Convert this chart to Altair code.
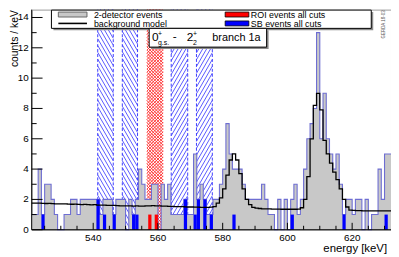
import altair as alt
import numpy as np
import pandas as pd

# ---------------- data ----------------
bin_lo = list(range(521, 632))          # 1 keV bins (lower edges)
two_det_counts = [
    1, 1, 4, 1, 3, 3, 2, 1, 0, 0,        # 521-530
    1, 1, 2, 2, 1, 2, 2, 2, 2, 2,        # 531-540
    2, 1, 2, 2, 2, 1, 2, 2, 2, 0,        # 541-550
    2, 1, 2, 4, 3, 2, 2, 3, 3, 0,        # 551-560
    3, 2, 3, 1, 1, 1, 1, 2, 1, 1,        # 561-570
    5, 2, 3, 2, 1, 1, 2, 2, 3, 4,        # 571-580
    7, 5, 4, 4, 4, 3, 2, 2, 2, 2,        # 581-590
    2, 3, 2, 1, 1, 0, 2, 0, 2, 0,        # 591-600
    2, 3, 1, 2, 4, 6, 7, 8, 13, 6,       # 601-610
    9, 6, 5, 4, 5, 3, 1, 2, 2, 1,        # 611-620
    2, 2, 0, 2, 0, 1, 1, 4, 2, 5, 5,     # 621-631
]
bkg_model = [
    1.76, 1.75, 1.75, 1.74, 1.73, 1.74, 1.72, 1.71, 1.71, 1.70,
    1.70, 1.69, 1.68, 1.69, 1.67, 1.66, 1.67, 1.65, 1.64, 1.65,
    1.63, 1.62, 1.63, 1.61, 1.60, 1.61, 1.59, 1.58, 1.58, 1.57,
    1.57, 1.56, 1.57, 1.55, 1.56, 1.57, 1.58, 1.59, 1.58, 1.57,
    1.56, 1.55, 1.54, 1.54, 1.53, 1.52, 1.52, 1.51, 1.50, 1.50,
    1.49, 1.49, 1.48, 1.48, 1.48, 1.49, 1.52, 1.75, 2.10, 2.70,
    3.60, 4.60, 5.00, 4.60, 3.70, 2.70, 2.00, 1.65, 1.48, 1.42,
    1.40, 1.38, 1.37, 1.37, 1.36, 1.36, 1.36, 1.35, 1.35, 1.35,
    1.35, 1.35, 1.36, 1.45, 2.00, 3.50, 6.00, 8.20, 9.00, 7.90,
    5.90, 5.00, 4.40, 3.80, 3.30, 2.70, 2.00, 1.50, 1.30, 1.27,
    1.26, 1.26, 1.25, 1.25, 1.25, 1.24, 1.24, 1.24, 1.24, 1.24, 1.24,
]
sb_bins = [524, 541, 543, 546, 552, 553, 568, 571, 572, 574, 576, 583, 601, 617, 630]
sb_counts = [1, 2, 1, 1, 1, 1, 2, 1, 2, 2, 1, 1, 1, 1, 1]
roi_bins = [557, 559]
roi_counts = [1, 1]

sideband_lo = [541.4, 549.0, 564.1, 571.9]
sideband_hi = [546.2, 553.7, 569.2, 576.8]
sideband_dir = [-1, -1, 1, 1]          # -1: "\\\" , +1: "///"
roi_lo, roi_hi = 556.6, 561.6

x_labels = [540, 560, 580, 600, 620]
x_minor = [v for v in range(525, 631, 5) if v not in x_labels]
y_labels = [0, 2, 4, 6, 8, 10, 12, 14]
y_minor = [1, 3, 5, 7, 9, 11, 13]

# ---------------- layout constants ----------------
XMIN, XMAX, YMAX = 521, 632, 14.52
W, H = 364, 223
KX = W / (XMAX - XMIN)
KY = H / YMAX
FONT = "Liberation Sans"

xs = alt.Scale(domain=[XMIN, XMAX], nice=False, zero=False)
ys = alt.Scale(domain=[0, YMAX], nice=False, zero=True)

# ---------------- tables ----------------
edges = bin_lo + [bin_lo[-1] + 1]
hist_df = pd.DataFrame({"E": edges, "c": two_det_counts + [two_det_counts[-1]]})
bkg_df = pd.DataFrame({"E": edges, "m": bkg_model + [bkg_model[-1]]})
sb_df = pd.DataFrame({"lo": sb_bins, "hi": [b + 1 for b in sb_bins], "c": sb_counts, "z": 0})
roi_df = pd.DataFrame({"lo": roi_bins, "hi": [b + 1 for b in roi_bins], "c": roi_counts, "z": 0})
xlab_df = pd.DataFrame({"v": x_labels, "t": [str(v) for v in x_labels]})
ylab_df = pd.DataFrame({"v": y_labels, "t": [str(v) for v in y_labels]})


def hatch_rows(lo, hi, sign, angle_deg, step_px):
    w_px = (hi - lo) * KX
    dy = w_px * np.tan(np.radians(angle_deg)) / KY
    step = step_px / KY
    rows = []
    for y in np.arange(-dy, YMAX + dy, step):
        rows.append({"x": lo, "x2": hi, "y": y, "y2": y + sign * dy})
    return rows


sb_rows = []
for lo, hi, d in zip(sideband_lo, sideband_hi, sideband_dir):
    sb_rows += hatch_rows(lo, hi, d, 60, 6.9)
sb_hatch_df = pd.DataFrame(sb_rows)
roi_hatch_df = pd.DataFrame(hatch_rows(roi_lo, roi_hi, 1, 45, 3.2) +
                            hatch_rows(roi_lo, roi_hi, -1, 45, 3.2))
band_edge_df = pd.DataFrame({"x": sideband_lo + sideband_hi, "y": 0, "y2": YMAX})

one = pd.DataFrame({"a": [0]})


def X(f, **kw):
    return alt.X(f, scale=xs, axis=None, **kw)


def Y(f, **kw):
    return alt.Y(f, scale=ys, axis=None, **kw)


def seg_layer(df, color, width):
    return alt.Chart(df).mark_rule(clip=True, color=color, strokeWidth=width).encode(
        x=X("x:Q"), x2="x2:Q", y=Y("y:Q"), y2="y2:Q")


sb_hatch = seg_layer(sb_hatch_df, "#3c3cff", 0.85)
roi_hatch = seg_layer(roi_hatch_df, "#ff2a2a", 0.9)
band_edges = alt.Chart(band_edge_df).mark_rule(
    color="#3c3cff", strokeWidth=1, strokeDash=[3, 2], clip=True).encode(
    x=X("x:Q"), y=Y("y:Q"), y2="y2:Q")

hist_area = alt.Chart(hist_df).mark_area(interpolate="step-after", color="#c8c8c8").encode(
    x=X("E:Q"), y=Y("c:Q"))
hist_line = alt.Chart(hist_df).mark_line(interpolate="step-after", color="#6e6ed2",
                                         strokeWidth=1.1).encode(x=X("E:Q"), y=Y("c:Q"))


def bar_layer(df, color):
    return alt.Chart(df).mark_rect(color=color).encode(
        x=X("lo:Q"), x2="hi:Q", y=Y("c:Q"), y2="z:Q")


sb_bars = bar_layer(sb_df, "#0000ff")
roi_bars = bar_layer(roi_df, "#ff0000")

model = alt.Chart(bkg_df).mark_line(interpolate="step-after", color="black",
                                    strokeWidth=1.3).encode(x=X("E:Q"), y=Y("m:Q"))

# axis lines, ticks (inside the frame, ROOT style) and tick labels
frame_left = alt.Chart(one).mark_rule(color="black").encode(
    x=alt.value(0), y=alt.value(0), y2=alt.value(H))
frame_bottom = alt.Chart(one).mark_rule(color="black").encode(
    x=alt.value(0), x2=alt.value(W), y=alt.value(H))
ytm = alt.Chart(pd.DataFrame({"v": y_labels})).mark_rule(color="black").encode(
    y=Y("v:Q"), x=alt.value(0), x2=alt.value(11))
ytn = alt.Chart(pd.DataFrame({"v": y_minor})).mark_rule(color="black").encode(
    y=Y("v:Q"), x=alt.value(0), x2=alt.value(5))
xtm = alt.Chart(pd.DataFrame({"v": x_labels})).mark_rule(color="black").encode(
    x=X("v:Q"), y=alt.value(H), y2=alt.value(H - 7))
xtn = alt.Chart(pd.DataFrame({"v": x_minor})).mark_rule(color="black").encode(
    x=X("v:Q"), y=alt.value(H), y2=alt.value(H - 4))
xlab = alt.Chart(xlab_df).mark_text(font=FONT, fontSize=10, baseline="top",
                                    align="center", color="black").encode(
    x=X("v:Q"), y=alt.value(H + 3), text="t:N")
ylab = alt.Chart(ylab_df).mark_text(font=FONT, fontSize=10, baseline="middle",
                                    align="right", color="black").encode(
    y=Y("v:Q"), x=alt.value(-3), text="t:N")


def box(x, x2, y, y2, **kw):
    return alt.Chart(one).mark_rect(**kw).encode(
        x=alt.value(x), x2=alt.value(x2), y=alt.value(y), y2=alt.value(y2))


def txt(s, x, y, size, align="left", baseline="middle", **kw):
    color = kw.pop("color", "black")
    return alt.Chart(one).mark_text(text=s, align=align, baseline=baseline,
                                    fontSize=size, font=FONT, color=color,
                                    **kw).encode(x=alt.value(x), y=alt.value(y))


def hline(x, x2, y, **kw):
    return alt.Chart(one).mark_rule(**kw).encode(x=alt.value(x), x2=alt.value(x2), y=alt.value(y))


legend = [
    box(22, 346, 2.5, 21, color="#8c8c8c"),
    box(20, 344, 0.5, 19, fill="white", stroke="black", strokeWidth=1),
    box(27, 56, 2.5, 7.5, fill="#c8c8c8", stroke="#666666", strokeWidth=1),
    txt("2-detector events", 63, 5.0, 9),
    hline(27, 56, 14, color="black", strokeWidth=1.6),
    txt("background model", 63, 14.2, 9),
    box(196, 220, 2.5, 7.5, fill="#ff0000", stroke="black", strokeWidth=0.8),
    txt("ROI events all cuts", 222, 5.0, 9),
    box(196, 220, 11.5, 16.5, fill="#0000ff", stroke="black", strokeWidth=0.8),
    txt("SB events all cuts", 222, 14.2, 9),
]
label_box = [
    box(121, 240, 21, 40, color="#8c8c8c"),
    box(119, 238, 19, 38, fill="white", stroke="black", strokeWidth=1),
    txt("0", 122, 32, 12, baseline="alphabetic"),
    txt("+", 128, 25, 7),
    txt("g.s.", 128, 34, 7),
    txt("-", 143, 31, 12, baseline="alphabetic"),
    txt("2", 157, 32, 12, baseline="alphabetic"),
    txt("+", 163.5, 25, 7),
    txt("2", 163.5, 34, 7),
    txt("branch 1a", 183, 31.5, 11, baseline="alphabetic"),
]
titles = [
    txt("counts / keV", -17, 0.5, 10.5, align="right", angle=270),
    txt("energy [keV]", 360, 246, 11.5, align="right", baseline="alphabetic"),
    txt("GERDA 18-03", 357, 15, 4.5, align="center", angle=270, color="#555555"),
]

chart = alt.layer(
    sb_hatch, roi_hatch, band_edges,
    hist_area, hist_line, roi_bars, sb_bars, model,
    frame_left, frame_bottom, ytm, ytn, xtm, xtn, xlab, ylab,
    *legend, *label_box, *titles,
).properties(
    width=W, height=H,
    autosize=alt.AutoSizeParams(type="none"),
    padding={"left": 24, "top": 0, "right": 0, "bottom": 26},
    background="white",
).configure_view(stroke="#9a9a9a", strokeWidth=1)

chart.save("out.html", embed_options={"renderer": "svg", "actions": False})
